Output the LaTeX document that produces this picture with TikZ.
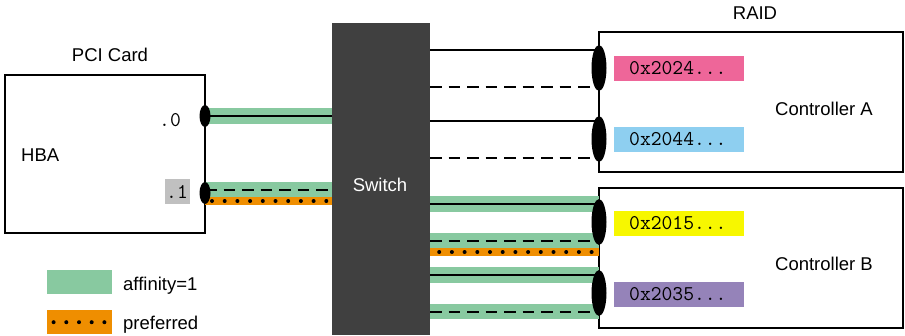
\documentclass[tikz,border=0pt]{standalone}
\usepackage{fontspec}
\setmainfont{Liberation Sans}
\usetikzlibrary{positioning,calc,shapes.geometric}
\definecolor{affgreen}{HTML}{88C9A0}
\definecolor{preforange}{HTML}{EF8E00}
\definecolor{wwnpink}{HTML}{EE6699}
\definecolor{wwnblue}{HTML}{8ECFF0}
\definecolor{wwnyellow}{HTML}{F7F700}
\definecolor{wwnpurple}{HTML}{9583B9}
\definecolor{switchgray}{HTML}{404040}
\definecolor{portgray}{HTML}{C0C0C0}

\begin{document}
\begin{tikzpicture}[x=1pt,y=-1pt,font=\fontsize{18.5}{22}\selectfont,
  band/.style={line width=15.5pt,draw=affgreen},
  prefband/.style={line width=8pt,draw=preforange},
  prefdots/.style={line width=4pt,line cap=round,dash pattern=on 0pt off 12.7pt},
  wire/.style={line width=2pt},
  dashwire/.style={line width=2pt,dash pattern=on 11.5pt off 7pt},
  port/.style={ellipse,fill=black,inner sep=0pt,minimum width=11pt,minimum height=22pt},
  bigport/.style={port,minimum width=15pt,minimum height=46pt},
  box/.style={draw,line width=2pt,inner sep=0pt},
  mono/.style={font=\ttfamily\fontsize{21}{24}\selectfont},
  wwn/.style={mono,anchor=west,inner xsep=15pt,inner ysep=0pt,text width=100pt,
    minimum height=24.7pt},
  txt/.style={inner sep=0pt,anchor=base}]
  \useasboundingbox (0,0) rectangle (905,335);

  \node[box,minimum width=200pt,minimum height=158pt] (pci) at (105,154) {};
  \node[box,minimum width=304pt,minimum height=140pt] (ctrla) at (751,102) {};
  \node[box,minimum width=304pt,minimum height=140pt] (ctrlb) at (751,258) {};
  \node[fill=switchgray,minimum width=98pt,minimum height=312pt,inner sep=0pt] (sw) at (381,179) {};

  \node[txt] (pcilabel) at (110,61.5) {PCI Card};
  \node[txt,anchor=base west] (hba) at (21,161.5) {HBA};
  \node[txt,mono] (p0label) at (170,126) {.0};
  \node[fill=portgray,minimum width=25pt,minimum height=25pt,inner sep=0pt,mono] (p1label) at (177,191.5) {.1};
  \node[txt,text=white] (swlabel) at (380,191) {Switch};
  \node[txt] (raid) at (755,19.5) {RAID};
  \node[txt] (ctrlalabel) at (824,115) {Controller A};
  \node[txt] (ctrlblabel) at (824,270.5) {Controller B};

  \node[wwn,fill=wwnpink] (wwna0) at (614,68.3) {0x2024...};
  \node[wwn,fill=wwnblue] (wwna1) at (614,139.3) {0x2044...};
  \node[wwn,fill=wwnyellow] (wwnb0) at (614,223.3) {0x2015...};
  \node[wwn,fill=wwnpurple] (wwnb1) at (614,294.3) {0x2035...};

  \coordinate (hba0) at (205,116);
  \coordinate (hba1) at (205,193);
  \coordinate (a0) at (599,68);
  \coordinate (a1) at (599,139);
  \coordinate (b0) at (599,222);
  \coordinate (b1) at (599,293);
  \coordinate (h1d) at ($(hba1)+(0,-3)$);
  \coordinate (h1p) at ($(hba1)+(0,8)$);
  \coordinate (b0p) at ($(b0)+(0,30)$);
  \foreach \p in {a0,a1,b0,b1} {
    \coordinate (\p up) at ($(\p)+(0,-18)$);
    \coordinate (\p dn) at ($(\p)+(0,18.5)$);
  }

  \draw[band] (hba0) -- (sw.west |- hba0);
  \draw[wire] (hba0) -- (sw.west |- hba0);
  \draw[band] (h1d) -- (sw.west |- h1d);
  \draw[prefband] (h1p) -- (sw.west |- h1p);
  \draw[dashwire] (h1d) -- (sw.west |- h1d);
  \draw[prefdots,dash phase=5.7pt] (h1p) -- (sw.west |- h1p);

  \draw[wire] (sw.east |- a0up) -- (a0up);
  \draw[dashwire] (sw.east |- a0dn) -- (a0dn);
  \draw[wire] (sw.east |- a1up) -- (a1up);
  \draw[dashwire] (sw.east |- a1dn) -- (a1dn);

  \foreach \p in {b0,b1} {
    \draw[band] (sw.east |- \p up) -- (\p up);
    \draw[band] (sw.east |- \p dn) -- (\p dn);
  }
  \draw[prefband] (sw.east |- b0p) -- (b0p);
  \draw[wire] (sw.east |- b0up) -- (b0up);
  \draw[dashwire] (sw.east |- b0dn) -- (b0dn);
  \draw[prefdots,dash phase=3.7pt] (sw.east |- b0p) -- (b0p);
  \draw[wire] (sw.east |- b1up) -- (b1up);
  \draw[dashwire] (sw.east |- b1dn) -- (b1dn);

  \node[port] (hbaport0) at (hba0) {};
  \node[port] (hbaport1) at (hba1) {};
  \node[bigport] (portA0) at (a0) {};
  \node[bigport] (portA1) at (a1) {};
  \node[bigport] (portB0) at (b0) {};
  \node[bigport] (portB1) at (b1) {};

  \node[fill=affgreen,minimum width=65pt,minimum height=24.3pt,inner sep=0pt] (legaff) at (79.3,282.2) {};
  \node[fill=preforange,minimum width=65pt,minimum height=24.3pt,inner sep=0pt] (legpref) at (79.3,322.2) {};
  \draw[prefdots,dash phase=5.7pt] (legpref.west) -- (legpref.east);
  \node[txt,anchor=base west] (legafftext) at (123,290) {affinity=1};
  \node[txt,anchor=base west] (legpreftext) at (123,329.3) {preferred};
\end{tikzpicture}
\end{document}
